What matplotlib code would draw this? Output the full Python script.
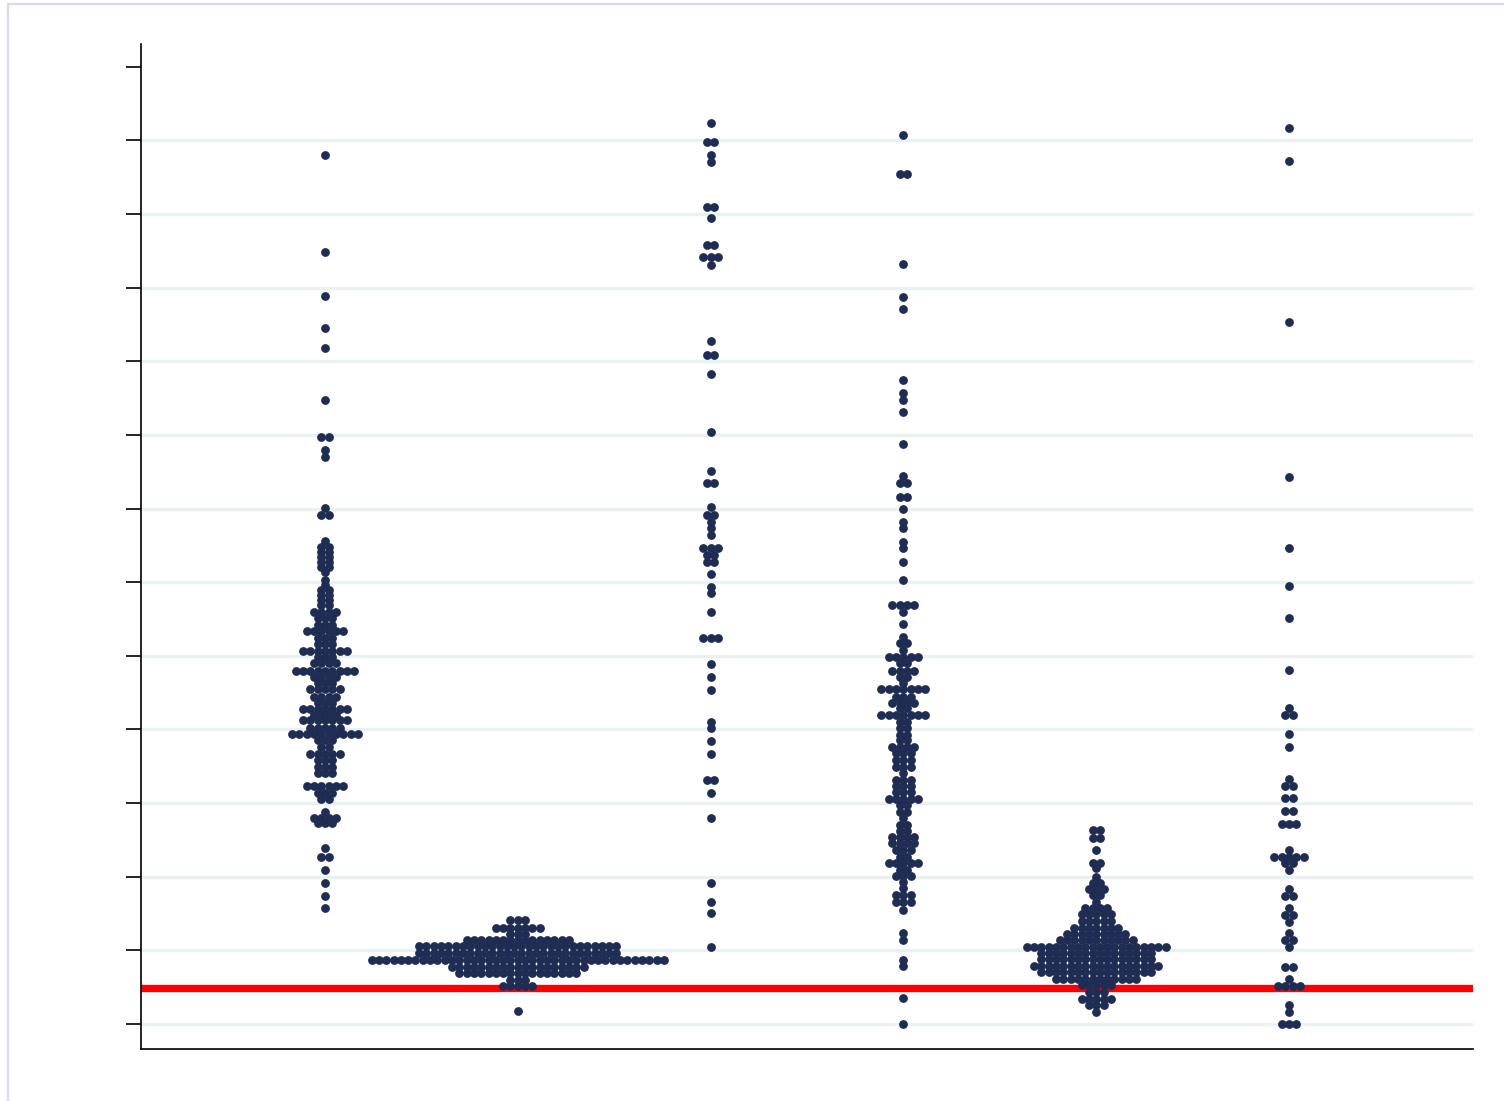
import numpy as np
import matplotlib
matplotlib.use("Agg")
import matplotlib.pyplot as plt
from matplotlib.lines import Line2D

# Binned values (y) and number of observations in each bin, one pair of lists per group
g1_values = [11.80, 10.49, 9.89, 9.45, 9.18, 8.48, 7.97, 7.80, 7.70, 7.01, 6.91,
             6.56, 6.48, 6.41, 6.34, 6.28, 6.21, 6.14, 6.03, 5.96, 5.90, 5.83,
             5.76, 5.69, 5.60, 5.52, 5.42, 5.34, 5.24, 5.16, 5.07, 4.99, 4.90,
             4.80, 4.71, 4.63, 4.55, 4.44, 4.36, 4.28, 4.20, 4.13, 4.02, 3.94,
             3.86, 3.76, 3.67, 3.59, 3.49, 3.41, 3.23, 3.14, 3.06, 2.88, 2.80,
             2.73, 2.39, 2.27, 2.09, 1.92, 1.74, 1.58]
g1_counts = [1, 1, 1, 1, 1, 1, 2, 1, 1, 1, 2,
             1, 2, 2, 2, 2, 2, 1, 1, 1, 2, 2,
             2, 2, 4, 3, 3, 6, 3, 3, 7, 3, 4,
             9, 4, 3, 5, 4, 3, 7, 4, 7, 5, 10,
             3, 2, 5, 3, 3, 3, 6, 3, 2, 1, 4,
             3, 1, 2, 1, 1, 1, 1]

g2_values = [1.41, 1.30, 1.22, 1.14, 1.06, 0.96, 0.87, 0.77, 0.69, 0.60, 0.52, 0.18]
g2_counts = [3, 7, 3, 15, 28, 28, 41, 19, 17, 3, 5, 1]

g3_values = [12.24, 11.98, 11.80, 11.71, 11.10, 10.94, 10.58, 10.42, 10.31, 9.28,
             9.09, 8.83, 8.04, 7.51, 7.35, 7.02, 6.91, 6.82, 6.74, 6.64, 6.47,
             6.37, 6.28, 6.11, 5.94, 5.85, 5.60, 5.24, 4.89, 4.71, 4.54, 4.10,
             4.02, 3.84, 3.67, 3.31, 3.14, 2.80, 1.92, 1.66, 1.51, 1.05]
g3_counts = [1, 2, 1, 1, 2, 1, 2, 3, 1, 1,
             2, 1, 1, 1, 2, 1, 2, 1, 1, 1, 3,
             2, 2, 1, 1, 1, 1, 3, 1, 1, 1, 1,
             1, 1, 1, 2, 1, 1, 1, 1, 1, 1]

g4_values = [12.08, 11.55, 10.32, 9.88, 9.71, 8.75, 8.57, 8.48, 8.31, 7.88, 7.44,
             7.35, 7.16, 7.00, 6.82, 6.74, 6.55, 6.47, 6.28, 6.03, 5.69, 5.60,
             5.43, 5.26, 5.18, 5.08, 4.99, 4.90, 4.80, 4.71, 4.63, 4.55, 4.44,
             4.36, 4.29, 4.20, 4.10, 4.02, 3.93, 3.86, 3.76, 3.68, 3.59, 3.49,
             3.41, 3.31, 3.23, 3.15, 3.06, 2.97, 2.88, 2.80, 2.70, 2.62, 2.54,
             2.46, 2.36, 2.27, 2.19, 2.09, 2.01, 1.93, 1.85, 1.75, 1.66, 1.55,
             1.24, 1.14, 0.87, 0.79, 0.35, 0.00]
g4_counts = [1, 2, 1, 1, 1, 1, 1, 1, 1, 1, 1,
             2, 2, 1, 1, 1, 1, 1, 1, 1, 4, 1,
             1, 1, 2, 1, 5, 2, 4, 2, 1, 7, 3,
             4, 2, 7, 2, 2, 2, 2, 4, 3, 3, 3,
             1, 3, 3, 3, 5, 2, 2, 1, 2, 2, 4,
             4, 3, 2, 5, 2, 3, 1, 1, 3, 3, 1,
             1, 1, 1, 1, 1, 1]

g5_values = [2.64, 2.53, 2.36, 2.19, 2.12, 2.00, 1.92, 1.83, 1.75, 1.66, 1.58,
             1.49, 1.40, 1.30, 1.22, 1.14, 1.05, 0.96, 0.88, 0.79, 0.71, 0.61,
             0.53, 0.43, 0.34, 0.26, 0.16]
g5_counts = [2, 2, 1, 2, 1, 1, 2, 3, 2, 1, 4,
             5, 5, 7, 9, 11, 20, 16, 16, 18, 16, 12,
             5, 3, 5, 3, 1]

g6_values = [12.17, 11.72, 9.54, 7.43, 6.47, 5.95, 5.52, 4.81, 4.29, 4.20, 3.94,
             3.76, 3.33, 3.23, 3.07, 2.89, 2.72, 2.36, 2.27, 2.19, 2.09, 1.83,
             1.74, 1.58, 1.48, 1.39, 1.24, 1.14, 1.05, 0.77, 0.61, 0.52, 0.26,
             0.16, 0.00]
g6_counts = [1, 1, 1, 1, 1, 1, 1, 1, 1, 2, 1,
             1, 1, 2, 2, 2, 3, 1, 5, 2, 1, 1,
             2, 1, 2, 1, 1, 2, 1, 2, 1, 4, 1,
             1, 3]

reference_value = 0.49
y_ticks = list(range(0, 14))

groups = [(g1_values, g1_counts), (g2_values, g2_counts), (g3_values, g3_counts),
          (g4_values, g4_counts), (g5_values, g5_counts), (g6_values, g6_counts)]

DOT_COLOR = "#1f2d54"
GRID_COLOR = "#eaf1f1"
DOT_STEP = 0.0379   # horizontal distance between neighbouring dots in a bin

fig = plt.figure(figsize=(15.04, 11.01), dpi=100)
ax = fig.add_axes([141 / 1504, 52 / 1101, 1332 / 1504, 1005 / 1101])

for pos, (vals, cnts) in enumerate(groups, start=1):
    xs, ys = [], []
    for v, c in zip(vals, cnts):
        offs = (np.arange(c) - (c - 1) / 2.0) * DOT_STEP
        xs.extend(pos + offs)
        ys.extend([v] * c)
    ax.scatter(xs, ys, s=40, color=DOT_COLOR, linewidths=0, zorder=3)

ax.axhline(reference_value, color="#ff0000", lw=5.3, zorder=2)

ax.set_xlim(0.046, 6.954)
ax.set_ylim(-0.34, 13.31)
ax.set_yticks(y_ticks)
ax.set_yticklabels([])
ax.set_xticks([])
ax.tick_params(axis="y", length=11, width=1.2, color="black", direction="out")

# horizontal grid at every tick except the top one
for t in y_ticks[:-1]:
    ax.axhline(t, color=GRID_COLOR, lw=2.4, zorder=0)

for side in ("top", "right"):
    ax.spines[side].set_visible(False)
for side in ("left", "bottom"):
    ax.spines[side].set_linewidth(1.2)
    ax.spines[side].set_color("black")

# thin outer frame of the graph region
frame_color = "#d9d9f7"
fig.add_artist(Line2D([8 / 1504, 8 / 1504], [0, 1 - 4 / 1101],
                      transform=fig.transFigure, color=frame_color, lw=1.6))
fig.add_artist(Line2D([8 / 1504, 1], [1 - 4 / 1101, 1 - 4 / 1101],
                      transform=fig.transFigure, color=frame_color, lw=1.6))

fig.savefig("out.png", dpi=100)
